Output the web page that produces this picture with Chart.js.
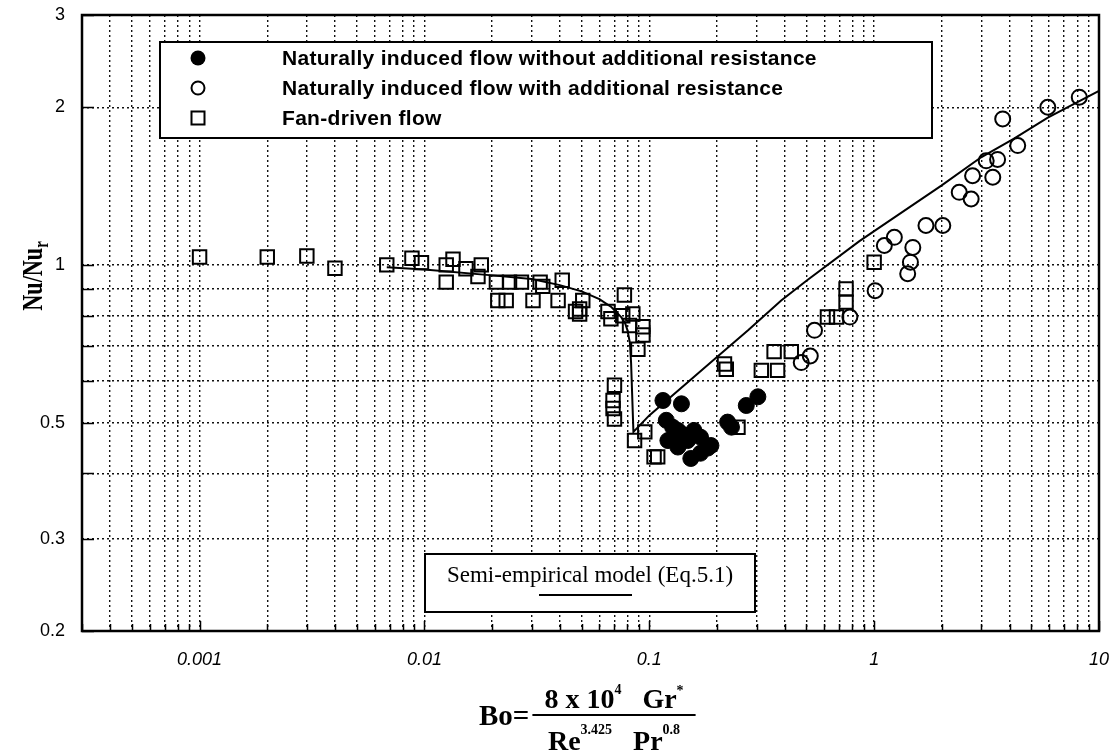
<!DOCTYPE html>
<html>
<head>
<meta charset="utf-8">
<title>Nu/Nur versus Bo</title>
<script src="https://cdn.jsdelivr.net/npm/chart.js@4.4.1/dist/chart.umd.min.js"></script>
<style>
  html, body { margin: 0; padding: 0; background: #fff; }
  #wrap { width: 1118px; height: 756px; }
</style>
</head>
<body>
<div id="wrap"><canvas id="nuChart" width="1118" height="756"></canvas></div>
<script>
// Naturally induced flow without additional resistance (filled circles)
var freeBo = [0.115, 0.139, 0.119, 0.127, 0.121, 0.139, 0.148, 0.169, 0.188, 0.153, 0.169, 0.182, 0.134, 0.134, 0.158, 0.223, 0.232, 0.27, 0.304];
var freeNu = [0.551, 0.543, 0.505, 0.49, 0.462, 0.476, 0.462, 0.469, 0.452, 0.427, 0.437, 0.447, 0.449, 0.483, 0.483, 0.501, 0.49, 0.539, 0.56];

// Naturally induced flow with additional resistance (open circles)
var resBo = [0.474, 0.52, 0.543, 0.78, 1.01, 1.11, 1.23, 1.41, 1.45, 1.486, 1.70, 2.02, 2.39, 2.70, 2.74, 3.15, 3.37, 3.54, 3.73, 4.35, 5.92, 8.17];
var resNu = [0.651, 0.67, 0.75, 0.795, 0.893, 1.089, 1.129, 0.962, 1.012, 1.08, 1.189, 1.189, 1.376, 1.336, 1.48, 1.58, 1.47, 1.59, 1.90, 1.69, 2.0, 2.09];

// Fan-driven flow (open squares)
var fanBo = [0.001, 0.002, 0.003, 0.004, 0.0068, 0.0088, 0.0097, 0.0125, 0.0134, 0.0125,
             0.0153, 0.0173, 0.0179, 0.0209, 0.0212, 0.0231, 0.0239, 0.027, 0.0304, 0.0327,
             0.0336, 0.0393, 0.041, 0.0506, 0.049, 0.049, 0.047, 0.0655, 0.0675, 0.0775,
             0.0762, 0.0845, 0.0817, 0.0937, 0.0937, 0.089, 0.070, 0.069, 0.069, 0.070,
             0.086, 0.0955, 0.105, 0.109, 0.216, 0.22, 0.315, 0.359, 0.372, 0.428,
             0.248, 0.62, 0.68, 0.75, 0.75, 1.0];
var fanNu = [1.035, 1.035, 1.04, 0.985, 1.0, 1.03, 1.01, 1.0, 1.025, 0.927,
             0.983, 0.95, 1.0, 0.927, 0.855, 0.855, 0.927, 0.927, 0.855, 0.927,
             0.91, 0.855, 0.935, 0.855, 0.824, 0.806, 0.815, 0.815, 0.789, 0.876,
             0.80, 0.806, 0.766, 0.762, 0.735, 0.69, 0.589, 0.551, 0.532, 0.508,
             0.462, 0.48, 0.43, 0.43, 0.647, 0.632, 0.629, 0.683, 0.629, 0.683,
             0.49, 0.795, 0.795, 0.9, 0.849, 1.012];

// Semi-empirical model (Eq.5.1)
var modelBo = [0.0068, 0.01, 0.02, 0.03, 0.04, 0.05, 0.06, 0.068, 0.075, 0.078, 0.08, 0.082, 0.083, 0.085,
               0.1, 0.2, 0.275, 0.386, 0.5, 0.86, 1, 1.99, 2.99, 4.17, 5.92, 10];
var modelNu = [0.99, 0.98, 0.955, 0.94, 0.915, 0.89, 0.86, 0.83, 0.795, 0.775, 0.75, 0.71, 0.65, 0.48,
               0.516, 0.667, 0.75, 0.855, 0.933, 1.11, 1.16, 1.417, 1.605, 1.74, 1.91, 2.15];

// axes
var xDecades = [0.001, 0.01, 0.1, 1, 10];
var xMantissas = [1, 2, 3, 4, 5, 6, 7, 8, 9];
var yGrid = [0.2, 0.3, 0.4, 0.5, 0.6, 0.7, 0.8, 0.9, 1, 2, 3];
var yLabels = [0.2, 0.3, 0.5, 1, 2, 3];

var legendRows = [
  { text: 'Naturally induced flow without additional resistance', style: 'dot' },
  { text: 'Naturally induced flow with additional resistance', style: 'ring' },
  { text: 'Fan-driven flow', style: 'square' }
];

var xGrid = [];
[0.0001, 0.001, 0.01, 0.1, 1].forEach(function (d) {
  xMantissas.forEach(function (m) {
    var v = parseFloat((m * d).toPrecision(3));
    if (v >= 0.0003 && v <= 10) xGrid.push(v);
  });
});
xGrid.push(10);

function toPts(xs, ys) {
  return xs.map(function (x, i) { return { x: x, y: ys[i] }; });
}

var SANS = '"Liberation Sans", Arial, sans-serif';
var SERIF = '"Liberation Serif", "Times New Roman", serif';

function drawRuns(ctx, runs, x, y) {
  runs.forEach(function (r) {
    ctx.font = r[1];
    ctx.fillText(r[0], x, y + r[2]);
    x += ctx.measureText(r[0]).width;
  });
}
function runsWidth(ctx, runs) {
  var w = 0;
  runs.forEach(function (r) { ctx.font = r[1]; w += ctx.measureText(r[0]).width; });
  return w;
}

function marker(ctx, style, x, y) {
  ctx.save();
  ctx.lineWidth = 2;
  ctx.strokeStyle = '#000';
  ctx.fillStyle = '#000';
  ctx.beginPath();
  if (style === 'dot') { ctx.arc(x, y, 7.5, 0, Math.PI * 2); ctx.fill(); }
  else if (style === 'ring') { ctx.arc(x, y, 6.5, 0, Math.PI * 2); ctx.stroke(); }
  else { ctx.rect(x - 6.5, y - 6.5, 13, 13); ctx.stroke(); }
  ctx.restore();
}

var paperPlugin = {
  id: 'paper',
  beforeDraw: function (chart) {
    var ctx = chart.ctx;
    ctx.save();
    ctx.fillStyle = '#fff';
    ctx.fillRect(0, 0, chart.width, chart.height);
    ctx.restore();
  },
  beforeDatasetsDraw: function (chart) {
    var ctx = chart.ctx;
    ctx.save();
    // legend box
    ctx.fillStyle = '#fff';
    ctx.fillRect(160, 42, 772, 96);
    ctx.lineWidth = 2;
    ctx.strokeStyle = '#000';
    ctx.strokeRect(160, 42, 772, 96);
    ctx.fillStyle = '#000';
    ctx.textBaseline = 'middle';
    ctx.textAlign = 'left';
    ctx.font = 'bold 21px ' + SANS;
    if ('letterSpacing' in ctx) ctx.letterSpacing = '0.3px';
    legendRows.forEach(function (row, i) {
      var y = 58 + i * 30;
      marker(ctx, row.style, 198, y);
      ctx.fillText(row.text, 282, y + 1);
    });
    if ('letterSpacing' in ctx) ctx.letterSpacing = '0px';
    // model box
    ctx.fillStyle = '#fff';
    ctx.fillRect(425, 554, 330, 58);
    ctx.strokeRect(425, 554, 330, 58);
    ctx.fillStyle = '#000';
    ctx.textAlign = 'center';
    ctx.textBaseline = 'alphabetic';
    ctx.font = '23px ' + SERIF;
    ctx.fillText('Semi-empirical model (Eq.5.1)', 590, 582);
    ctx.beginPath();
    ctx.moveTo(539, 595);
    ctx.lineTo(632, 595);
    ctx.stroke();
    ctx.restore();
  },
  afterDraw: function (chart) {
    var ctx = chart.ctx, a = chart.chartArea;
    var xs = chart.scales.x, ys = chart.scales.y;
    ctx.save();
    ctx.strokeStyle = '#000';
    ctx.lineWidth = 1.5;
    ctx.beginPath();
    ys.ticks.forEach(function (t) {
      var py = Math.round(ys.getPixelForValue(t.value)) + 0.5;
      ctx.moveTo(a.left, py); ctx.lineTo(a.left + 12, py);
    });
    xs.ticks.forEach(function (t) {
      var px = Math.round(xs.getPixelForValue(t.value)) + 0.5;
      var len = xDecades.indexOf(t.value) >= 0 ? 10 : 7;
      ctx.moveTo(px, a.bottom); ctx.lineTo(px, a.bottom - len);
    });
    ctx.stroke();
    ctx.lineWidth = 2.5;
    ctx.strokeRect(a.left, a.top, a.right - a.left, a.bottom - a.top);

    // y title: Nu/Nu_r (tall, condensed serif)
    ctx.fillStyle = '#000';
    ctx.translate(42, 276);
    ctx.rotate(-Math.PI / 2);
    ctx.scale(0.74, 1);
    ctx.textBaseline = 'alphabetic';
    ctx.textAlign = 'left';
    var yt = [['Nu/Nu', 'bold 30px ' + SERIF, 0], ['r', 'bold 20px ' + SERIF, 6]];
    drawRuns(ctx, yt, -runsWidth(ctx, yt) / 2, 0);
    ctx.setTransform(1, 0, 0, 1, 0, 0);

    // x title: Bo = 8x10^4 Gr* / (Re^3.425 Pr^0.8)
    var big = 'bold 28px ' + SERIF, sup = 'bold 14px ' + SERIF;
    var num = [['8 x 10', big, 0], ['4', sup, -14], ['   Gr', big, 0], ['*', sup, -13]];
    var den = [['Re', big, 0], ['3.425', sup, -16], ['   Pr', big, 0], ['0.8', sup, -16]];
    var cx = 614;
    var nw = runsWidth(ctx, num), dw = runsWidth(ctx, den);
    var half = Math.max(nw, dw) / 2 + 12;
    drawRuns(ctx, num, cx - nw / 2, 708);
    drawRuns(ctx, den, cx - dw / 2, 750);
    ctx.lineWidth = 2;
    ctx.beginPath();
    ctx.moveTo(cx - half, 715); ctx.lineTo(cx + half, 715);
    ctx.stroke();
    ctx.font = 'bold 29px ' + SERIF;
    ctx.textAlign = 'right';
    ctx.fillText('Bo=', cx - half - 3, 725);
    ctx.restore();
  }
};

var ctx = document.getElementById('nuChart').getContext('2d');
var nuChart = new Chart(ctx, {
  type: 'scatter',
  data: {
    datasets: [{
      label: 'Semi-empirical model (Eq.5.1)',
      data: toPts(modelBo, modelNu),
      showLine: true,
      borderColor: '#000',
      borderWidth: 2,
      pointRadius: 0,
      tension: 0,
      fill: false
    }, {
      label: 'Fan-driven flow',
      data: toPts(fanBo, fanNu),
      pointStyle: 'rect',
      pointRadius: 9.5,
      borderWidth: 2,
      borderColor: '#000',
      backgroundColor: 'rgba(255,255,255,0)'
    }, {
      label: 'Naturally induced flow with additional resistance',
      data: toPts(resBo, resNu),
      pointStyle: 'circle',
      pointRadius: 7.5,
      borderWidth: 2,
      borderColor: '#000',
      backgroundColor: 'rgba(255,255,255,0)'
    }, {
      label: 'Naturally induced flow without additional resistance',
      data: toPts(freeBo, freeNu),
      pointStyle: 'circle',
      pointRadius: 8,
      borderWidth: 1,
      borderColor: '#000',
      backgroundColor: '#000'
    }]
  },
  options: {
    responsive: false,
    animation: false,
    devicePixelRatio: 1,
    layout: { autoPadding: false, padding: { left: 0, top: 15, right: 19, bottom: 0 } },
    plugins: {
      legend: { display: false },
      tooltip: { enabled: false }
    },
    scales: {
      x: {
        type: 'logarithmic',
        min: 0.0003,
        max: 10,
        afterBuildTicks: function (s) { s.ticks = xGrid.map(function (v) { return { value: v }; }); },
        afterFit: function (s) { s.height = 125; s.paddingLeft = 0; s.paddingRight = 0; },
        grid: { color: '#111', lineWidth: 1.4, drawTicks: false },
        border: { display: false, dash: [2, 3] },
        ticks: {
          autoSkip: false,
          maxRotation: 0,
          padding: 18,
          color: '#000',
          font: { family: SANS, size: 18, style: 'italic' },
          callback: function (v) { return xDecades.indexOf(v) >= 0 ? String(v) : ''; }
        }
      },
      y: {
        type: 'logarithmic',
        min: 0.2,
        max: 3,
        afterBuildTicks: function (s) { s.ticks = yGrid.map(function (v) { return { value: v }; }); },
        afterFit: function (s) { s.width = 82; s.paddingTop = 0; s.paddingBottom = 0; },
        grid: { color: '#111', lineWidth: 1.4, drawTicks: false },
        border: { display: false, dash: [2, 3] },
        ticks: {
          autoSkip: false,
          padding: 17,
          color: '#000',
          font: { family: SANS, size: 18 },
          callback: function (v) { return yLabels.indexOf(v) >= 0 ? String(v) : ''; }
        }
      }
    }
  },
  plugins: [paperPlugin]
});
</script>
</body>
</html>
